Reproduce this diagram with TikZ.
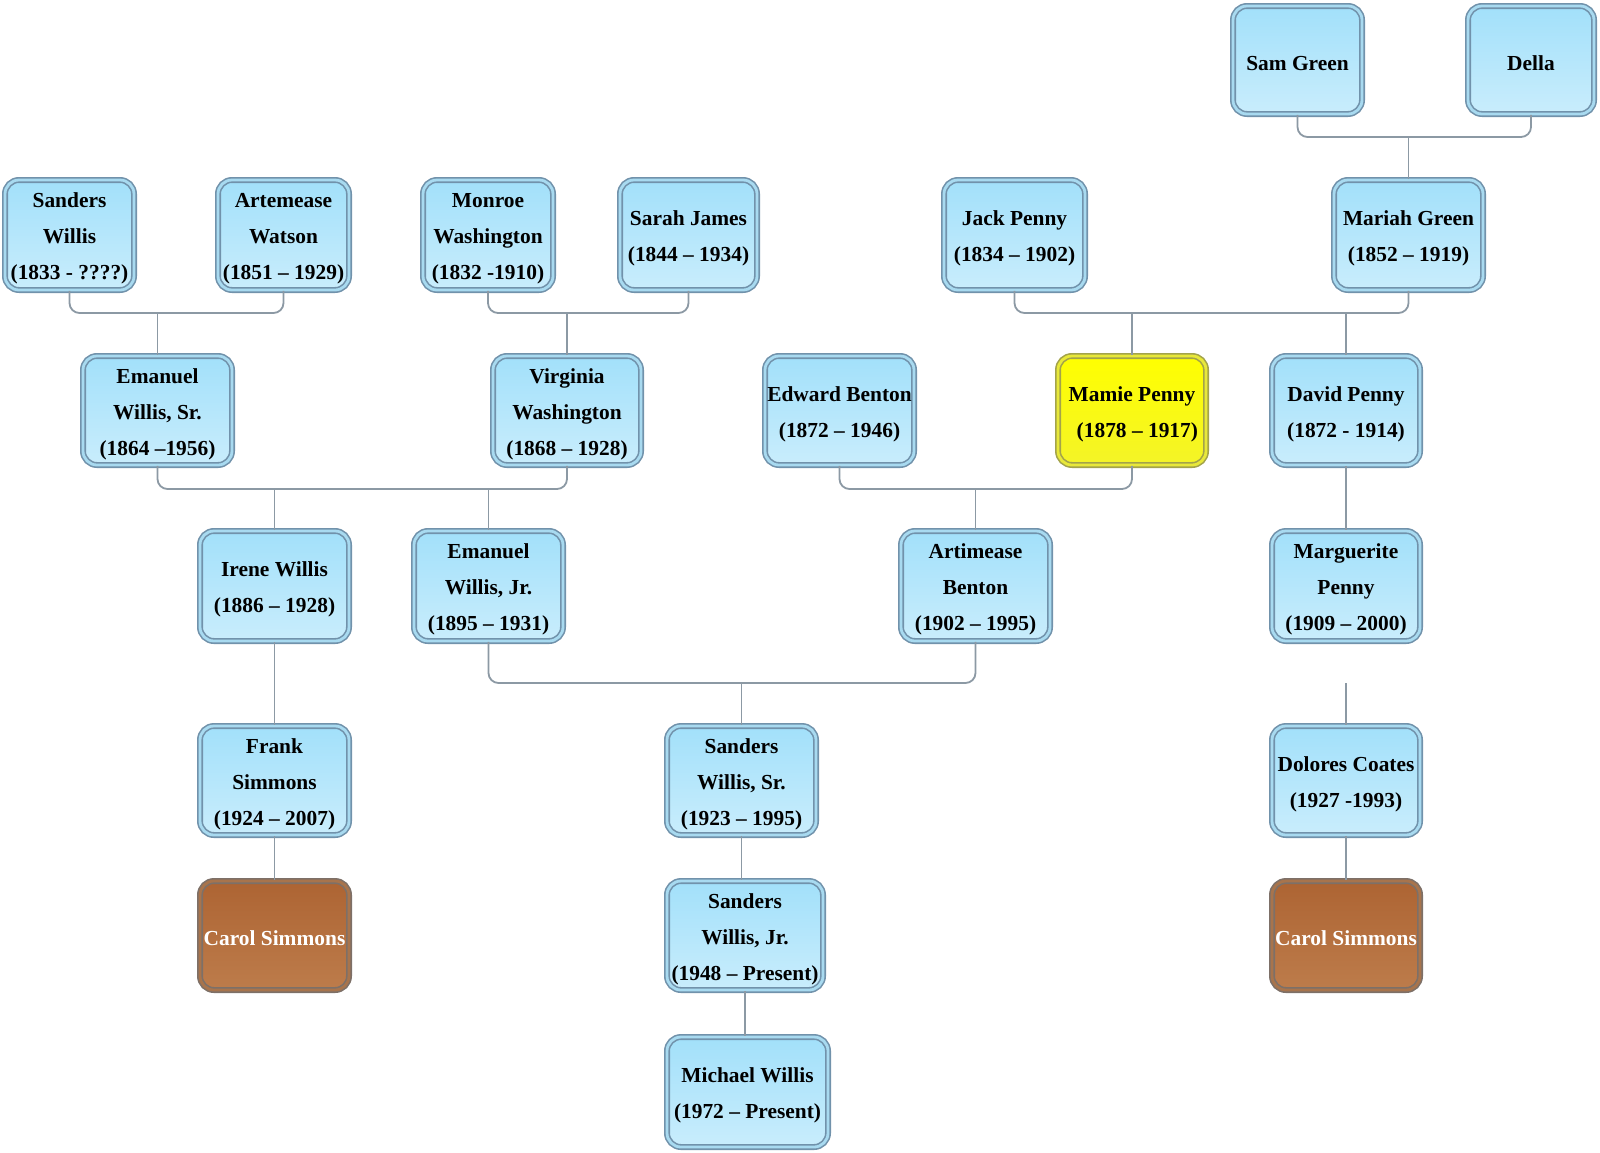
\documentclass[tikz,border=0pt]{standalone}
\usepackage{fontspec}
\setmainfont{Liberation Serif}
\definecolor{boxline}{HTML}{7192AB}
\definecolor{boxband}{HTML}{A8DAF0}
\definecolor{boxtop}{HTML}{A2E0FA}
\definecolor{boxbot}{HTML}{C9EDFC}
\definecolor{yline}{HTML}{A3A34A}
\definecolor{yband}{HTML}{E8E83A}
\definecolor{ytop}{HTML}{FFFF00}
\definecolor{ybot}{HTML}{F4F428}
\definecolor{bline}{HTML}{7D7068}
\definecolor{bband}{HTML}{A8744C}
\definecolor{btop}{HTML}{AD6433}
\definecolor{bbot}{HTML}{BD7C4B}
\definecolor{connc}{HTML}{8C99A4}
\tikzset{
  pbox/.style={draw=boxline, double=boxband, line width=0.8pt, double distance=1.4pt,
    rounded corners=7pt, top color=boxtop, bottom color=boxbot, inner sep=0pt},
  ybox/.style={pbox, draw=yline, double=yband, top color=ytop, bottom color=ybot},
  bbox/.style={pbox, draw=bline, double=bband, top color=btop, bottom color=bbot},
  ptext/.style={align=center, inner sep=0pt, font=\bfseries\fontsize{10.7}{18}\selectfont, text=black},
  btext/.style={ptext, text=white},
  conn/.style={draw=connc, line width=0.9pt, rounded corners=5pt}
}
\newcommand\famnode[7][pbox]{%
  \node[#1, minimum width={(#5-#3-6)*0.5pt}, minimum height={(#6-#4-6)*0.5pt}]
    (#2) at ({(#3+#5)/2},{(#4+#6)/2}) {};
  \node[ptext, yshift=-1.8pt] (#2t) at (#2.center) {#7};}
\newcommand\brownnode[6]{%
  \node[bbox, minimum width={(#4-#2-6)*0.5pt}, minimum height={(#5-#3-6)*0.5pt}]
    (#1) at ({(#2+#4)/2},{(#3+#5)/2}) {};
  \node[btext, yshift=-1.2pt] (#1t) at (#1.center) {#6};}
\begin{document}
\begin{tikzpicture}[x=0.5pt,y=-0.5pt]
\useasboundingbox (0,0) rectangle (1600,1152);
% row 0
\famnode{sg}{1230}{3}{1365}{117}{Sam Green}
\famnode{de}{1465}{3}{1597}{117}{Della}
% row 1
\famnode{sw}{2}{177}{137}{293}{Sanders\\Willis\\(1833 - ????)}
\famnode{aw}{215}{177}{352}{293}{Artemease\\Watson\\(1851 – 1929)}
\famnode{mw}{420}{177}{556}{293}{Monroe\\Washington\\(1832 -1910)}
\famnode{sj}{617}{177}{760}{293}{Sarah James\\(1844 – 1934)}
\famnode{jp}{941}{177}{1088}{293}{Jack Penny\\(1834 – 1902)}
\famnode{mg}{1331}{177}{1486}{293}{Mariah Green\\(1852 – 1919)}
% row 2
\famnode{es}{80}{353}{235}{468}{Emanuel\\Willis, Sr.\\(1864 –1956)}
\famnode{vw}{490}{353}{644}{468}{Virginia\\Washington\\(1868 – 1928)}
\famnode{eb}{762}{353}{917}{468}{Edward Benton\\(1872 – 1946)}
\famnode[ybox]{mp}{1055}{353}{1209}{468}{Mamie Penny\\\hspace*{0.5em}(1878 – 1917)}
\famnode{dp}{1269}{353}{1423}{468}{David Penny\\(1872 - 1914)}
% row 3
\famnode{iw}{197}{528}{352}{644}{Irene Willis\\(1886 – 1928)}
\famnode{ej}{411}{528}{566}{644}{Emanuel\\Willis, Jr.\\(1895 – 1931)}
\famnode{ab}{898}{528}{1053}{644}{Artimease\\Benton\\(1902 – 1995)}
\famnode{mgp}{1269}{528}{1423}{644}{Marguerite\\Penny\\(1909 – 2000)}
% row 4
\famnode{fs}{197}{723}{352}{838}{Frank\\Simmons\\(1924 – 2007)}
\famnode{ssr}{664}{723}{819}{838}{Sanders\\Willis, Sr.\\(1923 – 1995)}
\famnode{dc}{1269}{723}{1423}{838}{Dolores Coates\\(1927 -1993)}
% row 5
\brownnode{cs1}{197}{878}{352}{993}{Carol Simmons}
\famnode{sjr}{664}{878}{826}{993}{Sanders\\Willis, Jr.\\(1948 – Present)}
\brownnode{cs2}{1269}{878}{1423}{993}{Carol Simmons}
% row 6
\famnode{mwl}{664}{1034}{831}{1150}{Michael Willis\\(1972 – Present)}
% junctions
\coordinate (j0) at (1413,137);
\coordinate (j1) at (162,313);
\coordinate (j2) at (566,313);
\coordinate (j3) at (1128,313);
\coordinate (j4) at (274,489);
\coordinate (j5) at (975,489);
\coordinate (j6) at (741,683);
\coordinate (mfree) at (1346,683);
% connectors
\draw[conn] (sg.south) |- (j0) -| (de.south);
\draw[conn] (mg.north) -- (mg.north |- j0);
\draw[conn] (sw.south) |- (j1) -| (aw.south);
\draw[conn] (es.north) -- (es.north |- j1);
\draw[conn] (mw.south) |- (j2) -| (sj.south);
\draw[conn] (vw.north) -- (vw.north |- j2);
\draw[conn] (jp.south) |- (j3) -| (mg.south);
\draw[conn] (mp.north) -- (mp.north |- j3);
\draw[conn] (dp.north) -- (dp.north |- j3);
\draw[conn] (es.south) |- (j4) -| (vw.south);
\draw[conn] (iw.north) -- (iw.north |- j4);
\draw[conn] (ej.north) -- (ej.north |- j4);
\draw[conn] (eb.south) |- (j5) -| (mp.south);
\draw[conn] (ab.north) -- (ab.north |- j5);
\draw[conn] (dp.south) -- (mgp.north);
\draw[conn] (ej.south) |- (j6) -| (ab.south);
\draw[conn] (ssr.north) -- (ssr.north |- j6);
\draw[conn] (iw.south) -- (fs.north);
\draw[conn] (mfree) -- (dc.north);
\draw[conn] (fs.south) -- (cs1.north);
\draw[conn] (ssr.south) -- (ssr.south |- sjr.north);
\draw[conn] (sjr.south) -- (sjr.south |- mwl.north);
\draw[conn] (dc.south) -- (cs2.north);
\end{tikzpicture}
\end{document}
